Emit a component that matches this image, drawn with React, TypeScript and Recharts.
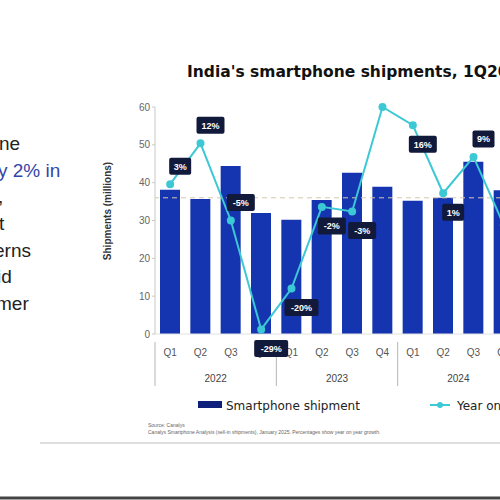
import React from 'react';
import { ComposedChart, Bar, Line, XAxis, YAxis, ReferenceLine, LabelList } from 'recharts';

const quarters = ['Q1', 'Q2', 'Q3', 'Q4', 'Q1', 'Q2', 'Q3', 'Q4', 'Q1', 'Q2', 'Q3', 'Q4'];
const years = ['2022', '2023', '2024'];
const shipments = [38.1, 35.7, 44.4, 32.0, 30.2, 35.4, 42.6, 38.9, 35.2, 36.0, 45.5, 38.0];
const yoyGrowth = [3, 12, -5, -29, -20, -2, -3, 20, 16, 1, 9, -6];
const leftTicks = [0, 10, 20, 30, 40, 50, 60];

const data = quarters.map((q, i) => ({
  key: `${years[Math.floor(i / 4)]}-${q}`,
  quarter: q,
  year: years[Math.floor(i / 4)],
  shipments: shipments[i],
  yoy: yoyGrowth[i],
}));

const BAR = '#1434b0';
const CYAN = '#3cc8d4';
const BAND = 364 / 12;
const labelsBelow = new Set([3, 4, 5, 6, 8, 9]);
const labelsHidden = new Set([7]);

const QuarterTick = (props: any) => {
  const { x, y, payload, index } = props;
  const d = data[index];
  return (
    <g>
      <text x={x} y={y + 22} textAnchor="middle" fontSize={10} fill="#555">{payload && d ? d.quarter : ''}</text>
      {index % 4 === 0 && (
        <g>
          <line x1={x - BAND / 2} x2={x - BAND / 2} y1={y + 8} y2={y + 52} stroke="#b5b5b5" />
          <text x={x + BAND * 1.5} y={y + 48} textAnchor="middle" fontSize={10} fill="#444">{d.year}</text>
        </g>
      )}
    </g>
  );
};

const GrowthLabel = (props: any) => {
  const { x, y, value, index } = props;
  if (labelsHidden.has(index)) return null;
  const text = `${value}%`;
  const w = text.length * 6 + 10;
  const cx = x + 10;
  const cy = labelsBelow.has(index) ? y + 19 : y - 18;
  return (
    <g>
      <rect x={cx - w / 2} y={cy - 8.5} width={w} height={17} rx={2} fill="#121a3c" />
      <text x={cx} y={cy + 3.5} textAnchor="middle" fontSize={9} fontWeight="bold" fill="#fff">{text}</text>
    </g>
  );
};

const font = '"Liberation Sans", Arial, sans-serif';
const wide = '"DejaVu Sans", sans-serif';

export default function App() {
  return (
    <div style={{ position: 'fixed', left: 0, top: 0, width: 500, height: 500, overflow: 'hidden', background: '#fff', fontFamily: font }}>
      <svg width={500} height={500} style={{ position: 'absolute', left: 0, top: 0 }}>
        <text x={187} y={77} fontSize={15.5} fontWeight="bold" fill="#111" fontFamily={wide}>
          India's smartphone shipments, 1Q2022 – 4Q2024
        </text>
        <g fontFamily={font} fontSize={19} fill="#222">
          <text x={-1} y={150}>ne</text>
          <text x={-2} y={177} fill="#3346a8">y 2% in</text>
          <text x={-2} y={203}>,</text>
          <text x={-1} y={230}>t</text>
          <text x={-6} y={257}>erns</text>
          <text x={-3} y={283}>id</text>
          <text x={-4} y={310}>mer</text>
        </g>
        <text transform="translate(111,211) rotate(-90)" textAnchor="middle" fontSize={10} fontWeight="bold" fill="#333" fontFamily={font}>
          Shipments (millions)
        </text>
        <rect x={198} y={401} width={24} height={7} fill="#0c1f7a" />
        <text x={226} y={410} fontSize={12} fill="#222" fontFamily={wide}>Smartphone shipment</text>
        <line x1={430} x2={450} y1={405} y2={405} stroke={CYAN} strokeWidth={2} />
        <circle cx={440} cy={405} r={3} fill={CYAN} />
        <text x={457} y={410} fontSize={12} fill="#222" fontFamily={wide}>Year on year growth</text>
        <text x={148} y={427} fontSize={5} fill="#666" fontFamily={font}>Source: Canalys</text>
        <text x={148} y={434} fontSize={5} fill="#666" fontFamily={font}>
          Canalys Smartphone Analysis (sell-in shipments), January 2025. Percentages show year on year growth.
        </text>
        <line x1={40} x2={500} y1={443} y2={443} stroke="#bdbdbd" />
        <line x1={0} x2={500} y1={498} y2={498} stroke="#444" strokeWidth={3} />
      </svg>
      <div style={{ position: 'absolute', left: 0, top: 0 }}>
        <ComposedChart width={600} height={500} data={data} margin={{ top: 107, right: 81, left: 110, bottom: 114 }}>
          <XAxis dataKey="key" height={52} tickSize={0} tickMargin={0} axisLine={{ stroke: '#e2e2e2' }} tickLine={false} interval={0} tick={<QuarterTick />} />
          <YAxis yAxisId="left" domain={[0, 60]} ticks={leftTicks} width={45} tickSize={3} axisLine={{ stroke: '#c8c8c8' }} tickLine={{ stroke: '#c8c8c8' }} tick={{ fontSize: 10, fill: '#666' }} />
          <YAxis yAxisId="right" orientation="right" domain={[-30, 20]} hide />
          <Bar yAxisId="left" dataKey="shipments" fill={BAR} barSize={20} isAnimationActive={false} />
          <ReferenceLine yAxisId="right" y={0} stroke="#d6c9ad" strokeDasharray="5 4" />
          <Line yAxisId="right" dataKey="yoy" stroke={CYAN} strokeWidth={2} dot={{ r: 3, fill: CYAN, stroke: CYAN }} isAnimationActive={false}>
            <LabelList dataKey="yoy" content={<GrowthLabel />} />
          </Line>
        </ComposedChart>
      </div>
    </div>
  );
}
